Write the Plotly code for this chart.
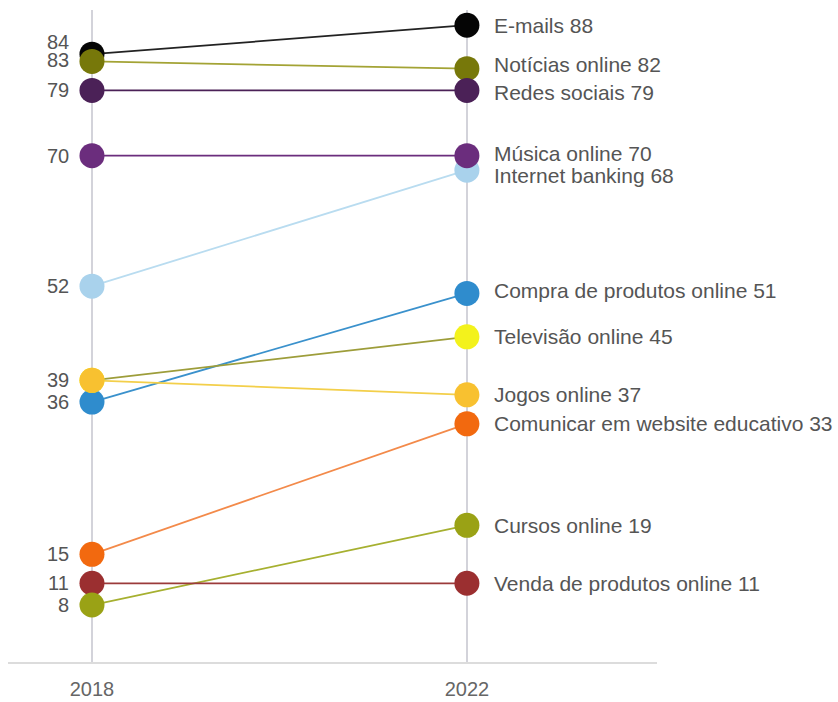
import plotly.graph_objects as go

# Share of internet users per activity, 2018 vs 2022
activities = [
    "E-mails", "Notícias online", "Redes sociais", "Música online",
    "Internet banking", "Compra de produtos online", "Televisão online",
    "Jogos online", "Comunicar em website educativo", "Cursos online",
    "Venda de produtos online",
]
values_2018 = [84, 83, 79, 70, 52, 36, 39, 39, 15, 8, 11]
values_2022 = [88, 82, 79, 70, 68, 51, 45, 37, 33, 19, 11]
years = ["2018", "2022"]

marker_colors = [
    "#050505", "#77780a", "#4b2157", "#6b2d7d", "#a9d2ec", "#2f8ccd",
    "#f3f21c", "#f8c130", "#f2690f", "#9aa215", "#9b2f30",
]
line_colors = [
    "#222222", "#a3a335", "#4b2157", "#6b2d7d", "#b9dcf0", "#3a91cc",
    "#9d9d3a", "#f3cf4a", "#f38a4a", "#a6b030", "#9b3a3a",
]

# label nudges (pixels) where neighbouring values would collide
left_shift = {0: 12, 1: 1}
right_shift = {1: 4, 2: -2, 3: 2, 4: -5, 5: 3}

# markers drawn later sit on top
marker_order = [4, 0, 1, 2, 3, 5, 6, 7, 8, 10, 9]

fig = go.Figure()

xpos = [0, 1]
for i, name in enumerate(activities):
    fig.add_trace(go.Scatter(
        x=xpos, y=[values_2018[i], values_2022[i]], mode="lines",
        line=dict(color=line_colors[i], width=1.8),
        hoverinfo="skip", showlegend=False,
    ))

for i in marker_order:
    fig.add_trace(go.Scatter(
        x=xpos, y=[values_2018[i], values_2022[i]], mode="markers",
        marker=dict(color=marker_colors[i], size=25, line=dict(width=0)),
        name=activities[i], showlegend=False,
    ))

base_font = "Liberation Sans, Arial, sans-serif"
left_font = dict(family=base_font, size=20, color="#555555")
right_font = dict(family=base_font, size=21, color="#555555")

# value labels on the 2018 side
shown = set()
for i, v in enumerate(values_2018):
    if v in shown:
        continue
    shown.add(v)
    fig.add_annotation(
        x=0, y=v, text=str(v), showarrow=False, xanchor="right",
        xshift=-21, yshift=left_shift.get(i, 0), font=left_font,
    )

# name + value labels on the 2022 side
for i, name in enumerate(activities):
    fig.add_annotation(
        x=1, y=values_2022[i], text=f"{name} {values_2022[i]}", showarrow=False,
        xanchor="left", xshift=25, yshift=right_shift.get(i, 0), font=right_font,
    )

fig.update_layout(
    width=838, height=702,
    margin=dict(l=8, r=181, t=10, b=39),
    plot_bgcolor="white", paper_bgcolor="white",
    xaxis=dict(
        range=[-0.224, 1.507], tickvals=xpos, ticktext=years,
        showgrid=True, gridcolor="#d3d3da", gridwidth=2,
        zeroline=False, showline=False, ticks="",
        ticklabelstandoff=12, automargin=False,
        tickfont=dict(family=base_font, size=20, color="#666666"),
    ),
    yaxis=dict(
        range=[0, 90.1], showgrid=False, showticklabels=False,
        zeroline=True, zerolinecolor="#dcdcdc", zerolinewidth=2,
        automargin=False,
    ),
)

fig.write_html("out.html")
